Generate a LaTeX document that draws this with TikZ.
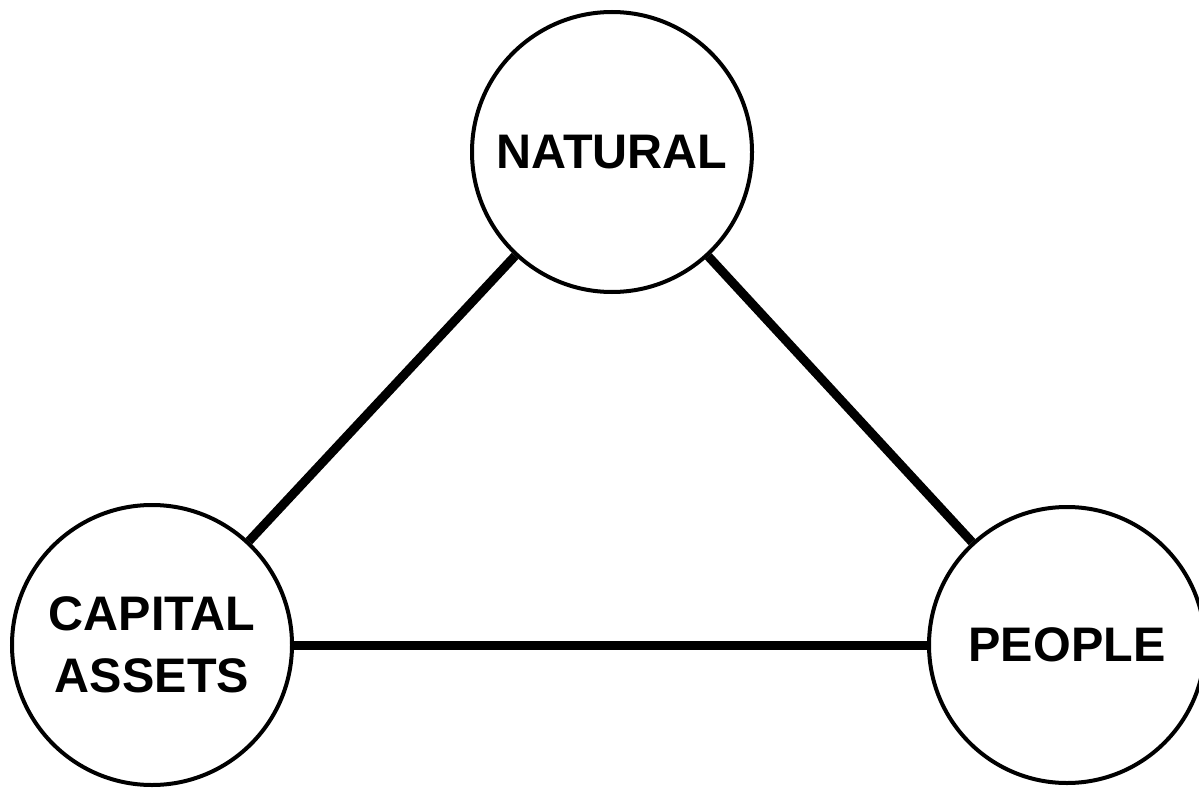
\documentclass[tikz,border=0pt]{standalone}
\usepackage{fontspec}
\setmainfont{Liberation Sans}
\begin{document}
\begin{tikzpicture}[x=1pt,y=-1pt,
  capnode/.style={circle,draw=black,line width=4pt,minimum size=280pt,inner sep=0pt,
    align=center,font=\fontsize{48.5}{62}\selectfont\bfseries},
  link/.style={line width=9pt,draw=black}]
\useasboundingbox (0,0) rectangle (1199,789);
\node[capnode] (nat) at (612,152) {NATURAL};
\node[capnode] (cap) at (152,645) {CAPITAL\\ASSETS};
\node[capnode,minimum size=276pt] (ppl) at (1067,645) {PEOPLE};
\draw[link] (nat) -- (cap);
\draw[link] (nat) -- (ppl);
\draw[link] (cap) -- (ppl);
\end{tikzpicture}
\end{document}
